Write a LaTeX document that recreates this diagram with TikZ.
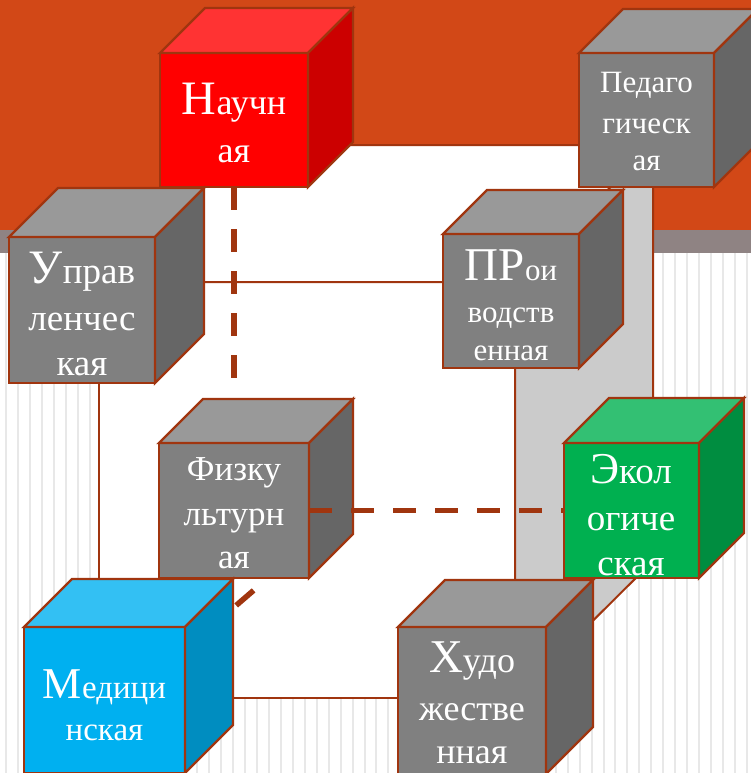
\documentclass[tikz,border=0pt]{standalone}
\usepackage{fontspec}
\setmainfont{Liberation Serif}
\usetikzlibrary{calc}

\definecolor{bandorange}{HTML}{D24817}
\definecolor{bandmauve}{HTML}{8F8383}
\definecolor{stripegray}{HTML}{E8E8E8}
\definecolor{edge}{HTML}{A0350F}
\definecolor{frameside}{HTML}{CBCBCB}
\definecolor{grayfront}{HTML}{808080}
\definecolor{graytop}{HTML}{999999}
\definecolor{grayside}{HTML}{666666}
\definecolor{redfront}{HTML}{FF0000}
\definecolor{redtop}{HTML}{FF3333}
\definecolor{redside}{HTML}{CC0000}
\definecolor{greenfront}{HTML}{00B050}
\definecolor{greentop}{HTML}{33C073}
\definecolor{greenside}{HTML}{008D40}
\definecolor{bluefront}{HTML}{00B0F0}
\definecolor{bluetop}{HTML}{33C0F3}
\definecolor{blueside}{HTML}{008DC0}

% a solid block: front face is a named node, top and side faces are drawn from its corners
% #1 name, #2 left, #3 top, #4 width, #5 height, #6 depth, #7 front, #8 top, #9 side
\newcommand\blockcube[9]{%
  \node[frontface, fill=#7, minimum width=#4pt, minimum height=#5pt] (#1) at (#2,#3) {};
  \filldraw[faceline, fill=#8] (#1.north west) -- ++(#6,-#6) -- ++(#4,0) -- (#1.north east) -- cycle;
  \filldraw[faceline, fill=#9] (#1.north east) -- ++(#6,-#6) -- ++(0,#5) -- (#1.south east) -- cycle;
}

\tikzset{
  frontface/.style={draw=edge, line width=2.4pt, anchor=north west, inner sep=0pt, outer sep=0pt},
  faceline/.style={draw=edge, line width=2.4pt, line join=miter},
  frameline/.style={draw=edge, line width=2pt, line join=miter},
  hiddenlink/.style={draw=edge, line width=5.5pt, dash pattern=on 23pt off 19pt},
  stripe/.style={draw=stripegray, line width=2pt},
  lbl/.style={text=white, anchor=base, inner sep=0pt},
}

\newcommand\capsz[2]{{\fontsize{#1}{#1}\selectfont #2}}

\begin{document}
\begin{tikzpicture}[x=1pt, y=-1pt]
\useasboundingbox (0,0) rectangle (751,773);
\clip (0,0) rectangle (751,773);

% background: coloured band and striped lower part
\fill[bandorange] (0,0) rectangle (751,230);
\fill[bandmauve] (0,230) rectangle (751,253);
\foreach \i in {0,...,62}
  \draw[stripe] (6+\i*11.95,253) -- (6+\i*11.95,773);

% the large frame cube
\node[frontface, draw=edge, line width=2pt, fill=white, minimum width=416pt, minimum height=416pt] (frame) at (99,282) {};
\filldraw[frameline, fill=white] (frame.north west) -- ++(138,-137) -- ++(416,0) -- (frame.north east) -- cycle;
\filldraw[frameline, fill=frameside] (frame.north east) -- ++(138,-137) -- ++(0,416) -- (frame.south east) -- cycle;

% back row
\blockcube{nau}{160}{53}{148}{134}{45}{redfront}{redtop}{redside}
\blockcube{ped}{579}{53}{135}{134}{44}{grayfront}{graytop}{grayside}

% front upper row
\blockcube{upr}{9}{237}{146}{146}{49}{grayfront}{graytop}{grayside}
\blockcube{pro}{443}{234}{136}{134}{44}{grayfront}{graytop}{grayside}

% hidden vertical edge of the back face
\coordinate (backfoot) at (234,388);
\draw[hiddenlink] (nau.south) -- (backfoot);

% back lower row
\blockcube{fiz}{159}{443}{150}{135}{44}{grayfront}{graytop}{grayside}
\draw[hiddenlink] (fiz.east) -- (564,510.5);
\blockcube{eco}{564}{443}{135}{135}{45}{greenfront}{greentop}{greenside}

% hidden diagonal edge towards the front
\coordinate (fizfoot) at (268,578);
\coordinate (medside) at (232,609);
\draw[hiddenlink, dash phase=23pt] (fizfoot) -- (medside);

% front lower row
\blockcube{med}{24}{627}{161}{146}{48}{bluefront}{bluetop}{blueside}
\blockcube{hud}{398}{627}{148}{147}{47}{grayfront}{graytop}{grayside}

% labels
\begin{scope}[font=\fontsize{36}{36}\selectfont]
  \node[lbl] (nauA) at (234,115) {\capsz{48}{Н}аучн};
  \node[lbl] (nauB) at (234,162) {ая};
\end{scope}
\begin{scope}[font=\fontsize{31}{31}\selectfont]
  \node[lbl] (pedA) at (646.5,93) {Педаго};
  \node[lbl] (pedB) at (646.5,133) {гическ};
  \node[lbl] (pedC) at (646.5,170) {ая};
\end{scope}
\begin{scope}[font=\fontsize{37}{37}\selectfont]
  \node[lbl] (uprA) at (82,283) {\capsz{48}{У}прав};
  \node[lbl] (uprB) at (82,330) {ленчес};
  \node[lbl] (uprC) at (82,375) {кая};
\end{scope}
\begin{scope}[font=\fontsize{31}{31}\selectfont]
  \node[lbl] (proA) at (511,280) {\capsz{47}{ПР}ои};
  \node[lbl] (proB) at (511,322) {водств};
  \node[lbl] (proC) at (511,360) {енная};
\end{scope}
\begin{scope}[font=\fontsize{35}{35}\selectfont]
  \node[lbl] (fizA) at (234,480) {Физку};
  \node[lbl] (fizB) at (234,525) {льтурн};
  \node[lbl] (fizC) at (234,568) {ая};
\end{scope}
\begin{scope}[font=\fontsize{37}{37}\selectfont]
  \node[lbl] (ecoA) at (631,483) {\capsz{44}{Э}кол};
  \node[lbl] (ecoB) at (631,530) {огиче};
  \node[lbl] (ecoC) at (631,575) {ская};
\end{scope}
\begin{scope}[font=\fontsize{33}{33}\selectfont]
  \node[lbl] (medA) at (104.5,698) {\capsz{44}{М}едици};
  \node[lbl] (medB) at (104.5,740) {нская};
\end{scope}
\begin{scope}[font=\fontsize{36}{36}\selectfont]
  \node[lbl] (hudA) at (472,672) {\capsz{47}{Х}удо};
  \node[lbl] (hudB) at (472,720) {жестве};
  \node[lbl] (hudC) at (472,763) {нная};
\end{scope}
\end{tikzpicture}
\end{document}
